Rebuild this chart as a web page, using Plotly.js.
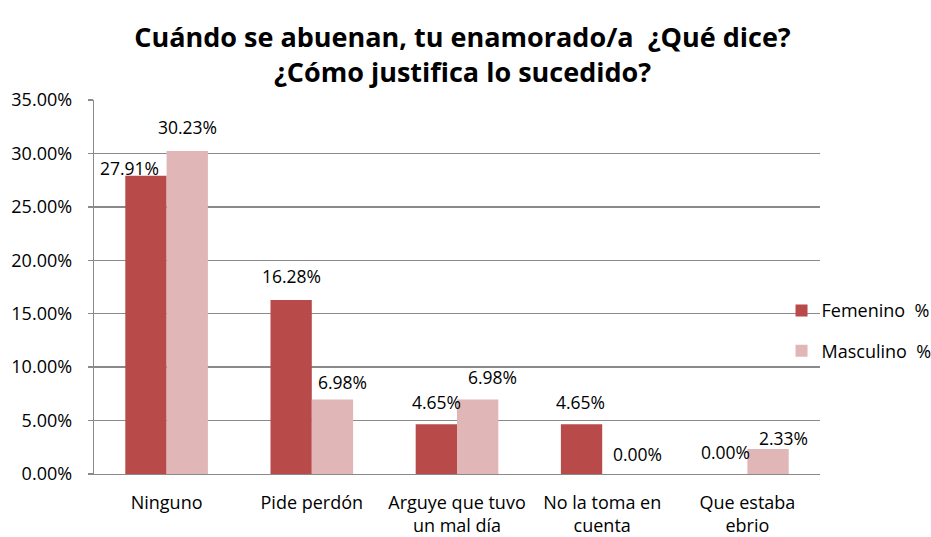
<!DOCTYPE html>
<html>
<head>
<meta charset="utf-8">
<script src="https://cdn.plot.ly/plotly-3.0.1.min.js"></script>
<style>html,body{margin:0;padding:0;background:#fff;}#chart{width:931px;height:537px;}</style>
</head>
<body>
<div id="chart"></div>
<script>
// ---- data ----
var categories = ["Ninguno", "Pide perdón", "Arguye que tuvo<br>un mal día", "No la toma en<br>cuenta", "Que estaba<br>ebrio"];
var femenino = [27.91, 16.28, 4.65, 4.65, 0.00];
var masculino = [30.23, 6.98, 6.98, 0.00, 2.33];
var seriesNames = ["Femenino  %", "Masculino  %"];
var yTicks = [0, 5, 10, 15, 20, 25, 30, 35];

// ---- label placement tweaks (pixels) ----
var femDx = [-16, 0, 0, -1, -1];
var femDy = [8, 24, 22, 22, 22];
var mascDx = [0, 10, 15, 15, 15];
var mascDy = [24, 17, 22, 20, 11];

var FONT = "Open Sans, Noto Sans, sans-serif";
var femColor = "#B84B49";
var mascColor = "#E0B6B6";

var traces = [
  {type: "bar", name: seriesNames[0], x: categories, y: femenino, marker: {color: femColor}, legendgroup: "f", hoverinfo: "none"},
  {type: "bar", name: seriesNames[1], x: categories, y: masculino, marker: {color: mascColor}, legendgroup: "m", hoverinfo: "none"}
];

var half = 20.65;
var annotations = [];
function addLabels(vals, dx, dy, off) {
  for (var i = 0; i < categories.length; i++) {
    annotations.push({
      x: categories[i], y: vals[i], xref: "x", yref: "y",
      text: vals[i].toFixed(2) + "%", showarrow: false,
      xanchor: "center", yanchor: "middle",
      xshift: off + dx[i], yshift: dy[i],
      font: {family: FONT, size: 17.5, color: "#000"}
    });
  }
}
addLabels(femenino, femDx, femDy, -half);
addLabels(masculino, mascDx, mascDy, half);

var layout = {
  width: 931, height: 537,
  margin: {l: 94, r: 111, t: 100, b: 63, autoexpand: false},
  paper_bgcolor: "#fff", plot_bgcolor: "#fff",
  title: {
    text: "<b>Cuándo se abuenan, tu enamorado/a  ¿Qué dice?<br>¿Cómo justifica lo sucedido?</b>",
    font: {family: FONT, size: 27, color: "#000"},
    x: 0.4968, xanchor: "center", y: 0.913, yref: "container", yanchor: "middle"
  },
  barmode: "group", bargap: 0.431, bargroupgap: 0,
  showlegend: true,
  legend: {
    x: 0.947, xanchor: "left", y: 0.486, yanchor: "top",
    font: {family: FONT, size: 18, color: "#000"},
    bgcolor: "rgba(0,0,0,0)", tracegroupgap: 14, traceorder: "grouped"
  },
  xaxis: {
    type: "category", showline: true, linecolor: "#8a8a8a", linewidth: 1.3,
    ticks: "", showgrid: false, tickfont: {family: FONT, size: 18, color: "#000"},
    ticklabelstandoff: 12, fixedrange: true
  },
  yaxis: {
    range: [0, 35], tickvals: yTicks, ticktext: yTicks.map(function(v){return v.toFixed(2) + "%";}),
    showline: true, linecolor: "#8a8a8a", linewidth: 1.3,
    showgrid: true, gridcolor: "#8a8a8a", gridwidth: 1.3,
    ticks: "outside", ticklen: 5, tickcolor: "#8a8a8a", tickwidth: 1.3,
    tickfont: {family: FONT, size: 18, color: "#000"}, ticklabelstandoff: 12,
    zeroline: false, fixedrange: true
  },
  annotations: annotations
};

Plotly.newPlot("chart", traces, layout, {displayModeBar: false, staticPlot: true});
</script>
</body>
</html>
